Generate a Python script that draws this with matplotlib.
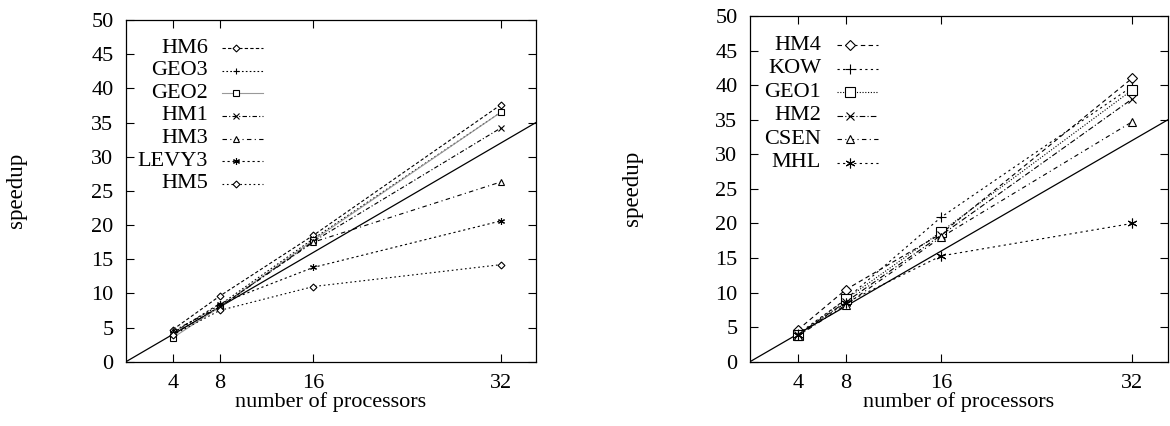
import matplotlib
matplotlib.use("Agg")
import matplotlib.pyplot as plt
from matplotlib.lines import Line2D

plt.rcParams['font.family'] = ['Liberation Serif', 'DejaVu Serif']

procs = [4, 8, 16, 32]
ideal_x = [0, 35]

# left panel
left_names = ['HM6', 'GEO3', 'GEO2', 'HM1', 'HM3', 'LEVY3', 'HM5']
hm6 = [4.7, 9.6, 18.5, 37.6]
geo3 = [4.3, 8.3, 18.0, 36.5]
geo2 = [3.5, 8.0, 17.8, 36.5]
hm1 = [4.0, 8.0, 17.6, 34.2]
hm3 = [4.5, 8.0, 17.5, 26.3]
levy3 = [4.2, 8.5, 13.8, 20.6]
hm5 = [3.9, 7.5, 11.0, 14.2]
left_values = [hm6, geo3, geo2, hm1, hm3, levy3, hm5]

# right panel
right_names = ['HM4', 'KOW', 'GEO1', 'HM2', 'CSEN', 'MHL']
hm4 = [4.6, 10.4, 18.5, 41.0]
kow = [4.0, 9.0, 20.9, 39.8]
geo1 = [3.8, 9.0, 18.8, 39.3]
hm2 = [3.9, 8.6, 18.3, 38.0]
csen = [3.7, 8.2, 18.0, 34.7]
mhl = [3.8, 8.5, 15.3, 20.0]
right_values = [hm4, kow, geo1, hm2, csen, mhl]

asterisk = (6, 2, 0)
left_styles = [
    dict(marker='D', ms=3.5, ls=(0, (3, 2)), color='black', mfc='white'),
    dict(marker='+', ms=5, ls=(0, (1.5, 2)), color='black'),
    dict(marker='s', ms=5, ls='-', color='#999999', mec='black', mfc='white'),
    dict(marker='x', ms=5, ls=(0, (4, 2, 1, 2)), color='black'),
    dict(marker='^', ms=4.5, ls=(0, (4, 3, 1, 3)), color='black', mfc='white'),
    dict(marker=asterisk, ms=5, ls=(0, (2, 2.5)), color='black'),
    dict(marker='D', ms=3.5, ls=(0, (1.5, 2.5)), color='black', mfc='white'),
]
right_styles = [
    dict(marker='D', ms=5.5, ls=(0, (4, 3)), color='black', mfc='white'),
    dict(marker='+', ms=7, ls=(0, (2, 3)), color='black'),
    dict(marker='s', ms=7, ls=(0, (1, 1.5)), color='black', mfc='white'),
    dict(marker='x', ms=6, ls=(0, (5, 2, 1, 2)), color='black'),
    dict(marker='^', ms=6, ls=(0, (4, 3, 1, 3)), color='black', mfc='white'),
    dict(marker=asterisk, ms=7, ls=(0, (2, 3)), color='black'),
]

fig = plt.figure(figsize=(11.7, 4.26), dpi=100)
ax_l = fig.add_axes([126 / 1170, 64.3 / 426, 410 / 1170, 341.7 / 426])
ax_r = fig.add_axes([750 / 1170, 64.3 / 426, 418 / 1170, 345.7 / 426])


def draw_panel(ax, names, values, styles, leg_top, leg_step, text_x, line_x0, line_x1, mark_x):
    ax.plot(ideal_x, ideal_x, color='black', lw=0.9)
    for vals, st in zip(values, styles):
        ax.plot(procs, vals, lw=0.8, mew=0.8, **st)
    # gnuplot-like legend: label right-aligned, sample line to the right
    for i, (name, st) in enumerate(zip(names, styles)):
        y = leg_top - i * leg_step
        ax.text(text_x, y, name, transform=ax.transAxes, ha='right', va='center', fontsize=16)
        ax.add_line(Line2D([line_x0, line_x1], [y, y], transform=ax.transAxes, lw=0.8,
                           ls=st['ls'], color=st['color']))
        ax.add_line(Line2D([mark_x], [y], transform=ax.transAxes,
                           ls='none', marker=st['marker'], ms=st['ms'], mew=0.8,
                           color='black', mfc=st.get('mfc', 'black')))
    ax.set_xlim(0, 35)
    ax.set_ylim(0, 50)
    ax.set_xticks(procs)
    ax.set_yticks(range(0, 51, 5))
    ax.tick_params(direction='in', top=True, right=True, labelsize=16, length=6, width=0.8, pad=9)
    for sp in ax.spines.values():
        sp.set_linewidth(0.9)
    ax.set_xlabel('number of processors', fontsize=16, labelpad=-1)
    ax.set_ylabel('speedup', fontsize=16.5, rotation=90, ha='center', va='center')


draw_panel(ax_l, left_names, left_values, left_styles, 0.918, 0.0663, 0.200, 0.234, 0.334, 0.268)
draw_panel(ax_r, right_names, right_values, right_styles, 0.916, 0.0682, 0.170, 0.207, 0.306, 0.239)
ax_l.yaxis.set_label_coords(-0.266, 0.50)
ax_r.yaxis.set_label_coords(-0.282, 0.50)

fig.savefig('out.png', dpi=100)
